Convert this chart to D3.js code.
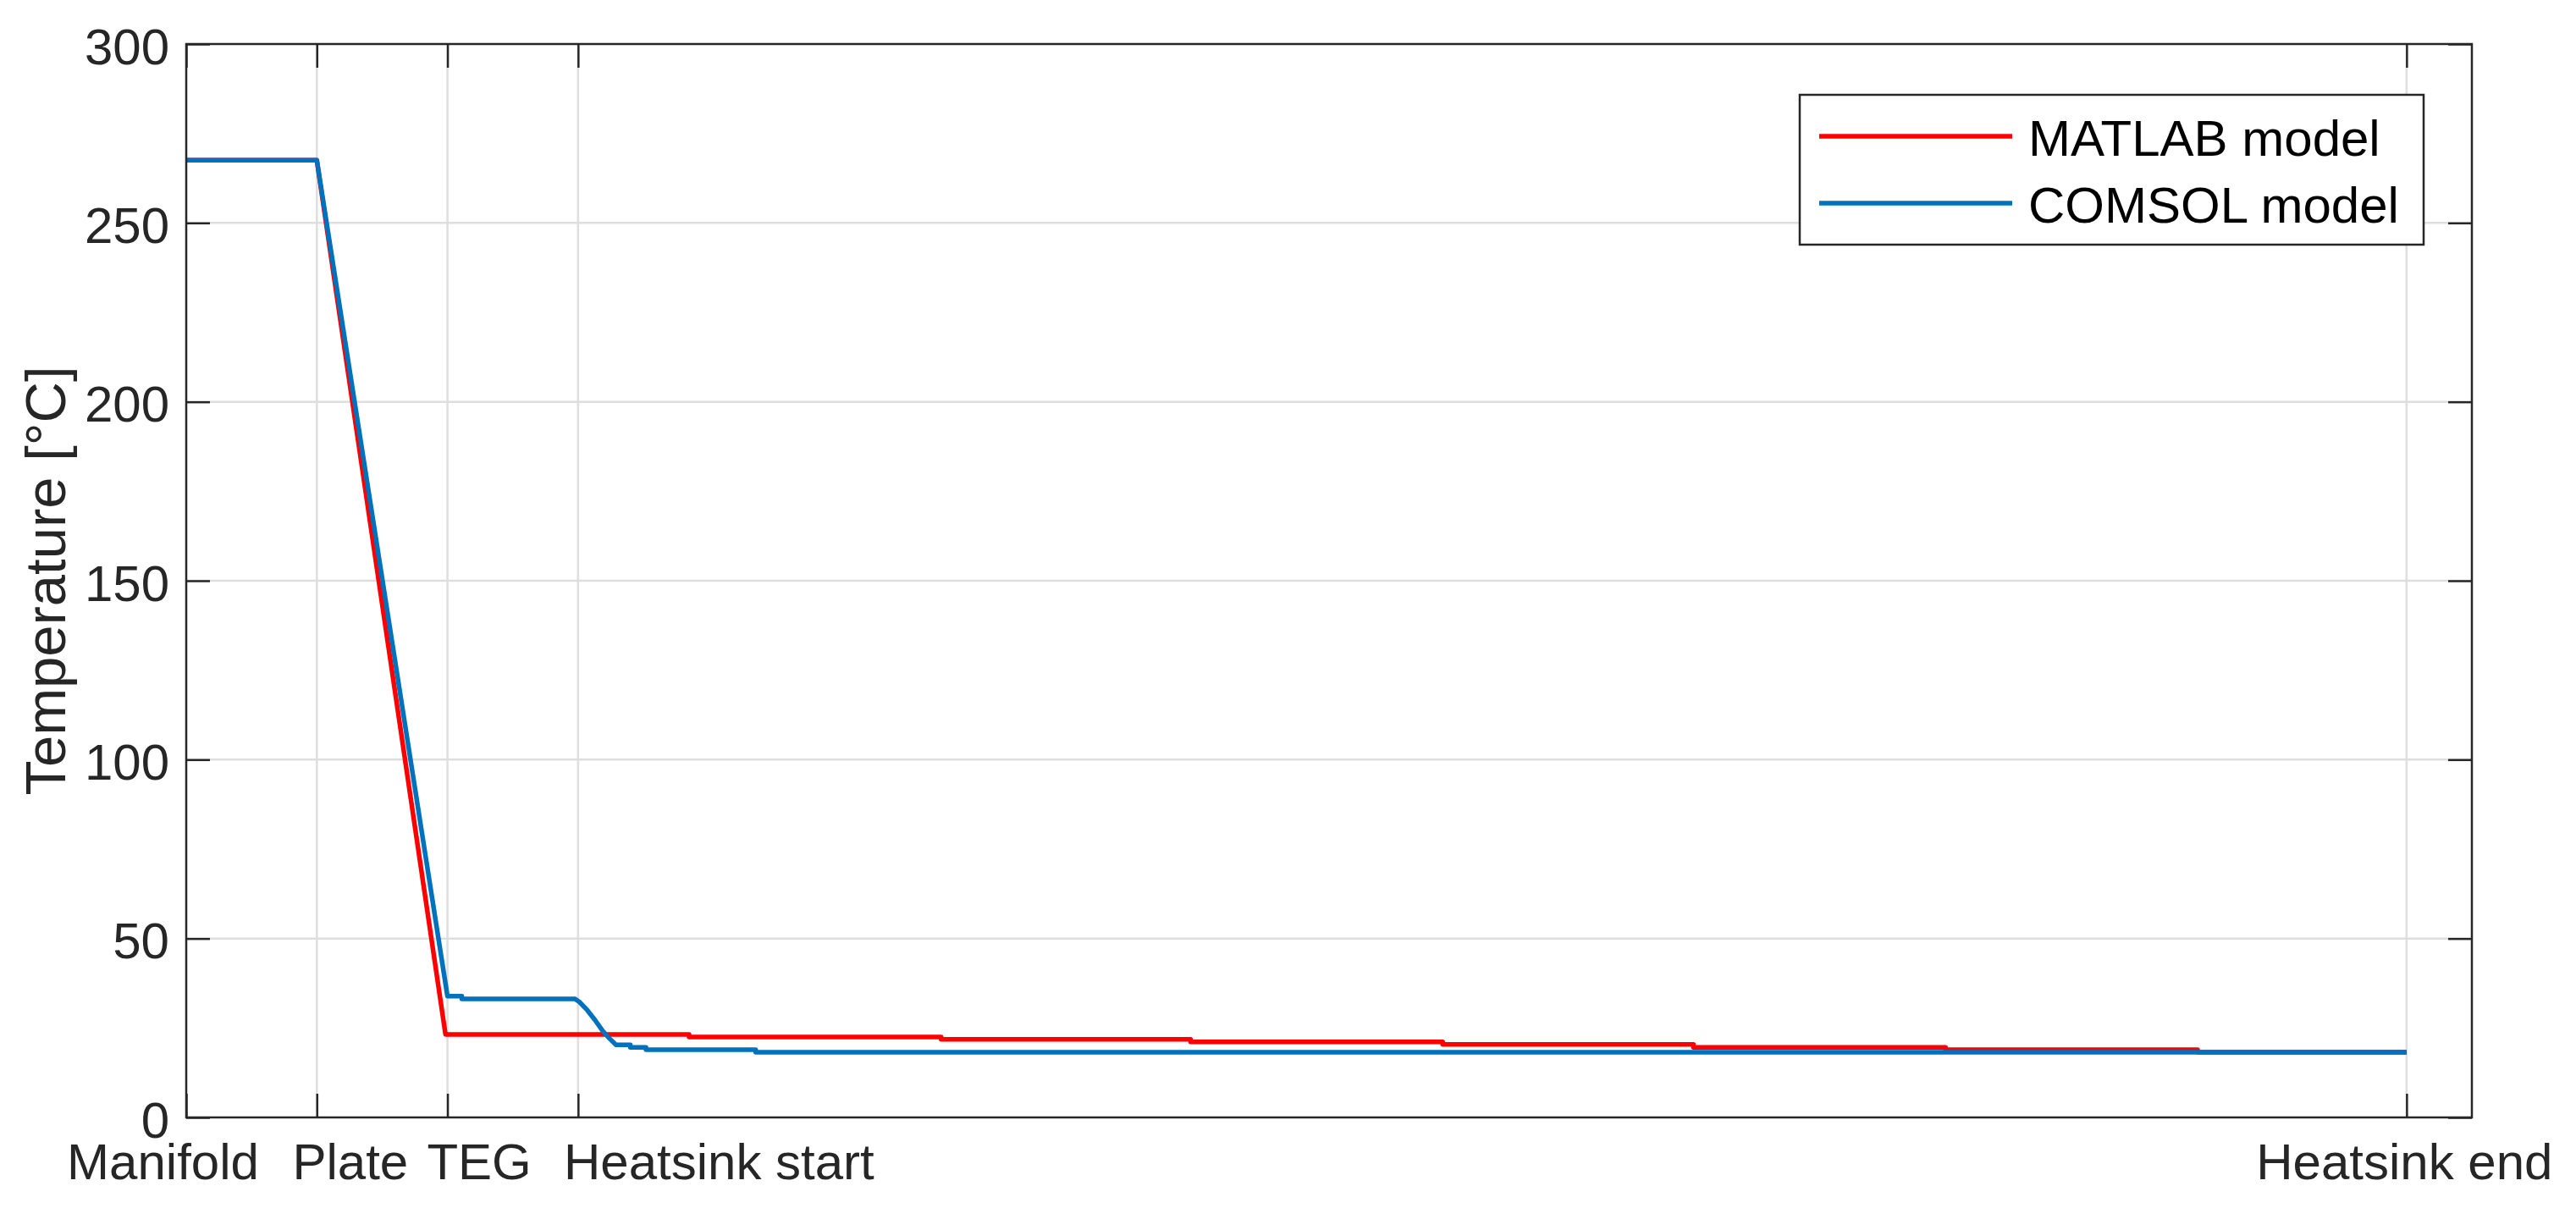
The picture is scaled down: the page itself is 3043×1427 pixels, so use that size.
<!DOCTYPE html>
<html>
<head>
<meta charset="utf-8">
<script src="https://d3js.org/d3.v7.min.js"></script>
<style>
  body { margin: 0; background: #fff; }
  text { font-family: "Liberation Sans", Arial, sans-serif; fill: #262626; }
</style>
</head>
<body>
<svg id="chart" width="3043" height="1427"></svg>
<script>
// positions along the module (ticks at section boundaries)
var tickPos = [0, 1, 2, 3, 17];
var tickLabels = ["Manifold", "Plate", "TEG", "Heatsink start", "Heatsink end"];
var yTicks = [0, 50, 100, 150, 200, 250, 300];

// MATLAB model
var matlabX = [0, 1, 1.985, 3.85, 3.85, 5.78, 5.78, 7.69, 7.69, 9.62, 9.62, 11.54, 11.54, 13.47, 13.47, 15.40, 15.40, 17];
var matlabT = [267.5, 267.5, 23.2, 23.2, 22.5, 22.5, 21.8, 21.8, 21.1, 21.1, 20.4, 20.4, 19.6, 19.6, 18.9, 18.9, 18.2, 18.2];

// COMSOL model
var comsolX = [0, 1, 2.0, 2.11, 2.11, 2.977, 3.01, 3.07, 3.13, 3.19, 3.24, 3.29, 3.40, 3.40, 3.52, 3.52, 4.36, 4.36, 17];
var comsolT = [267.5, 267.5, 33.9, 33.9, 33.1, 33.1, 32.3, 30.0, 27.2, 24.1, 22.1, 20.3, 20.3, 19.6, 19.6, 18.9, 18.9, 18.2, 18.2];

var seriesNames = ["MATLAB model", "COMSOL model"];
var seriesColors = ["#ff0000", "#0072bd"];

var svg = d3.select("#chart");
var pLeft = 220, pRight = 2920, pTop = 52, pBottom = 1320;
var axisColor = "#262626";

var x = d3.scaleLinear().domain([0, 17.5]).range([pLeft, pRight]);
var y = d3.scaleLinear().domain([0, 300]).range([pBottom, pTop]);

// grid
var grid = svg.append("g");
grid.selectAll(".gx").data(tickPos.slice(1)).enter().append("line")
    .attr("x1", function(d) { return x(d); }).attr("x2", function(d) { return x(d); })
    .attr("y1", pTop).attr("y2", pBottom)
    .attr("stroke", "#dedede").attr("stroke-width", 2.5);
grid.selectAll(".gy").data(yTicks.slice(1, -1)).enter().append("line")
    .attr("x1", pLeft).attr("x2", pRight)
    .attr("y1", function(d) { return y(d); }).attr("y2", function(d) { return y(d); })
    .attr("stroke", "#dedede").attr("stroke-width", 2.5);

// lines
var line = d3.line().x(function(d) { return x(d[0]); }).y(function(d) { return y(d[1]); });
var series = [d3.zip(matlabX, matlabT), d3.zip(comsolX, comsolT)];
svg.selectAll(".series").data(series).enter().append("path")
    .attr("d", line)
    .attr("fill", "none")
    .attr("stroke", function(d, i) { return seriesColors[i]; })
    .attr("stroke-width", 5.5)
    .attr("stroke-linejoin", "round");

// axes
var tickLen = 28;
var xAxis = svg.append("g").attr("transform", "translate(0," + pBottom + ")")
    .call(d3.axisBottom(x).tickValues(tickPos).tickSize(-tickLen).tickSizeOuter(0)
        .tickFormat(function(d, i) { return tickLabels[i]; }));
var labelShift = [-28, 39, 37, 166, -3];
xAxis.selectAll("text")
    .attr("dx", function(d, i) { return labelShift[i]; })
    .attr("y", 73).attr("dy", 0)
    .style("font-size", "60px").style("fill", "#262626");

var yAxis = svg.append("g").attr("transform", "translate(" + pLeft + ",0)")
    .call(d3.axisLeft(y).tickValues(yTicks).tickSize(-tickLen).tickSizeOuter(0));
yAxis.selectAll("text")
    .attr("x", -20).attr("dy", 0).attr("y", 23)
    .style("font-size", "60px").style("fill", "#262626");

svg.append("g").attr("transform", "translate(0," + pTop + ")")
    .call(d3.axisTop(x).tickValues(tickPos).tickSize(-tickLen).tickSizeOuter(0).tickFormat(""));
svg.append("g").attr("transform", "translate(" + pRight + ",0)")
    .call(d3.axisRight(y).tickValues(yTicks).tickSize(-tickLen).tickSizeOuter(0).tickFormat(""));

svg.selectAll(".domain").attr("stroke", "none");
svg.selectAll(".tick line").attr("stroke", axisColor).attr("stroke-width", 2.5);

svg.append("rect")
    .attr("x", pLeft).attr("y", pTop)
    .attr("width", pRight - pLeft).attr("height", pBottom - pTop)
    .attr("fill", "none").attr("stroke", axisColor).attr("stroke-width", 2.5);

// y label
svg.append("text")
    .attr("transform", "translate(77," + ((pTop + pBottom) / 2) + ") rotate(-90)")
    .attr("text-anchor", "middle")
    .style("font-size", "67px")
    .text("Temperature [°C]");

// legend
var lg = svg.append("g");
lg.append("rect").attr("x", 2126).attr("y", 112).attr("width", 737).attr("height", 177)
    .attr("fill", "#fff").attr("stroke", axisColor).attr("stroke-width", 2.5);
seriesNames.forEach(function(name, i) {
    var ly = 161 + i * 79;
    lg.append("line").attr("x1", 2149).attr("x2", 2377).attr("y1", ly).attr("y2", ly)
        .attr("stroke", seriesColors[i]).attr("stroke-width", 5.5);
    lg.append("text").attr("x", 2396).attr("y", ly + 23)
        .style("font-size", "60px").style("fill", "#000").text(name);
});
</script>
</body>
</html>
